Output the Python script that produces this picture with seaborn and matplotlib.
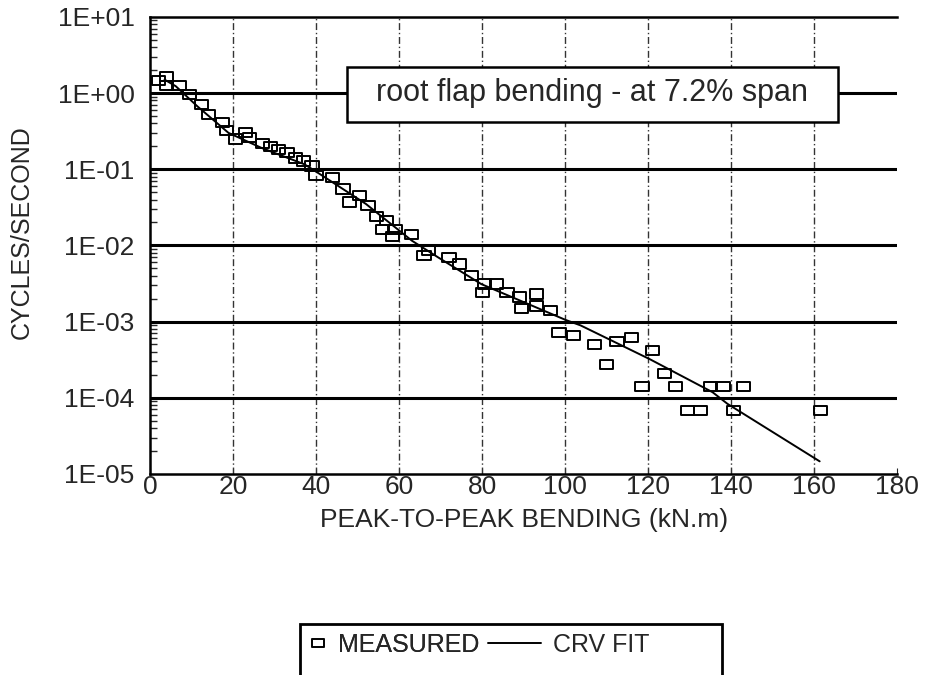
import numpy as np
import pandas as pd
import matplotlib
matplotlib.use("Agg")
import matplotlib.pyplot as plt
from matplotlib.path import Path
from matplotlib.lines import Line2D
from matplotlib.patches import Rectangle
import seaborn as sns

# measured points
meas_x = [2, 4, 4, 7, 9.5, 12.5, 14, 17.5, 18.5, 20.5, 23, 24, 27, 29, 31, 33, 35,
          37, 39, 40, 44, 46.5, 48, 50.5, 52.5, 54.5, 56, 57, 59, 58.5, 63, 66,
          67, 72, 74.5, 77.5, 80.5, 83.5, 80, 86, 89, 93, 89.5, 93, 96.5, 98.5,
          102, 107, 110, 112.5, 116, 121, 124, 118.5, 126.5, 135, 138, 143,
          129.5, 132.5, 140.5, 161.5]
meas_y = [1.45, 1.65, 1.27, 1.27, 0.96, 0.71, 0.52, 0.41, 0.32, 0.25, 0.30, 0.26,
          0.22, 0.20, 0.18, 0.165, 0.14, 0.128, 0.11, 0.083, 0.078, 0.055, 0.037,
          0.045, 0.033, 0.024, 0.016, 0.021, 0.016, 0.013, 0.014, 7.4e-3, 8.5e-3,
          6.9e-3, 5.7e-3, 4.0e-3, 3.1e-3, 3.1e-3, 2.4e-3, 2.4e-3, 2.1e-3, 2.3e-3,
          1.5e-3, 1.6e-3, 1.4e-3, 7.1e-4, 6.6e-4, 5.0e-4, 2.7e-4, 5.5e-4, 6.2e-4,
          4.2e-4, 2.1e-4, 1.4e-4, 1.4e-4, 1.4e-4, 1.4e-4, 1.4e-4, 6.8e-5, 6.8e-5,
          6.8e-5, 6.8e-5]

# curve fit line
fit_x = [3.5, 6.2, 11.4, 18.9, 26.9, 37.2, 40.4, 52, 63.1, 69.5, 79.8, 100.1,
         103.7, 120.4, 135.5, 139.1, 161.3]
fit_y = [1.5, 1.23, 0.67, 0.30, 0.19, 0.116, 0.09, 0.035, 0.0115, 6.9e-3, 3.1e-3,
         1.05e-3, 8.9e-4, 3.2e-4, 1.18e-4, 8.3e-5, 1.46e-5]

x_ticks = [0, 20, 40, 60, 80, 100, 120, 140, 160, 180]
y_ticks = [1e1, 1e0, 1e-1, 1e-2, 1e-3, 1e-4, 1e-5]
y_ticklabels = ["1E+01", "1E+00", "1E-01", "1E-02", "1E-03", "1E-04", "1E-05"]

measured = pd.DataFrame({"x": meas_x, "y": meas_y})
fit = pd.DataFrame({"x": fit_x, "y": fit_y})

sns.set_style("white")
plt.rcParams["font.family"] = ["Liberation Sans", "DejaVu Sans"]

# wide open rectangle marker like the scan
rect = Path([(-1, -0.7), (1, -0.7), (1, 0.7), (-1, 0.7), (-1, -0.7)],
            [Path.MOVETO, Path.LINETO, Path.LINETO, Path.LINETO, Path.CLOSEPOLY])

fig = plt.figure(figsize=(9.26, 6.75), dpi=100)
ax = fig.add_axes([0.162, 0.298, 0.807, 0.677])

# grid: dash-dot verticals, solid black decade lines
for xv in x_ticks[1:-1]:
    ax.axvline(xv, color="0.2", lw=1, ls=(0, (5, 2, 1, 2)), zorder=1)
for yv in y_ticks[1:-1]:
    ax.axhline(yv, color="black", lw=2.2, zorder=1)

sns.lineplot(data=fit, x="x", y="y", ax=ax, color="black", lw=1.4,
             sort=False, estimator=None, zorder=3)
sns.scatterplot(data=measured, x="x", y="y", ax=ax, marker=rect, s=90,
                facecolor="none", edgecolor="black", linewidth=1.4, zorder=4)

ax.set_yscale("log")
ax.set_xlim(0, 180)
ax.set_ylim(1e-5, 1e1)
ax.set_xticks(x_ticks)
ax.set_xticklabels([str(v) for v in x_ticks], fontsize=19)
ax.set_yticks(y_ticks)
ax.set_yticklabels(y_ticklabels, fontsize=19)
ax.yaxis.set_minor_locator(matplotlib.ticker.LogLocator(base=10, subs=np.arange(2, 10)))
ax.yaxis.set_minor_formatter(matplotlib.ticker.NullFormatter())
ax.tick_params(axis="y", which="major", direction="out", length=10, width=2, pad=1)
ax.tick_params(axis="y", which="minor", direction="in", length=5, width=1, left=True)
ax.tick_params(axis="x", direction="in", length=4, pad=1, bottom=True)

for side in ["left", "bottom", "top"]:
    ax.spines[side].set_color("black")
    ax.spines[side].set_linewidth(1.8)
ax.spines["right"].set_visible(False)

ax.set_xlabel("PEAK-TO-PEAK BENDING (kN.m)", fontsize=19, labelpad=6)
ax.set_ylabel("CYCLES/SECOND", fontsize=18)
ax.yaxis.set_label_coords(-0.155, 0.53)

# title box inside the plot
ax.add_patch(Rectangle((0.264, 0.77), 0.657, 0.12, transform=ax.transAxes,
                       facecolor="white", edgecolor="black", lw=1.8, zorder=5))
ax.text(0.592, 0.834, "root flap bending - at 7.2% span", transform=ax.transAxes,
        ha="center", va="center", fontsize=22, zorder=6)

# legend box at the bottom, cut by the figure edge
meas_handle = Line2D([], [], marker=rect, ls="none", markersize=9,
                     markerfacecolor="none", markeredgecolor="black", markeredgewidth=1.2)
fit_handle = Line2D([], [], color="black", lw=1.4)
leg_y = 1 - 645 / 675
leg1 = fig.legend([meas_handle], ["MEASURED"], loc="center left",
                  bbox_to_anchor=(310 / 926, leg_y), frameon=False, fontsize=18,
                  handlelength=0.6, handletextpad=0.5, borderpad=0, borderaxespad=0)
fig.add_artist(leg1)
fig.legend([fit_handle], ["CRV FIT"], loc="center left",
           bbox_to_anchor=(488 / 926, leg_y), frameon=False, fontsize=18,
           handlelength=2.1, handletextpad=0.5, borderpad=0, borderaxespad=0)
fig.patches.append(Rectangle((300 / 926, -0.05), 422 / 926, 0.05 + 51 / 675,
                             transform=fig.transFigure, facecolor="none",
                             edgecolor="black", lw=2, clip_on=False))

fig.savefig("out.png", dpi=100)
